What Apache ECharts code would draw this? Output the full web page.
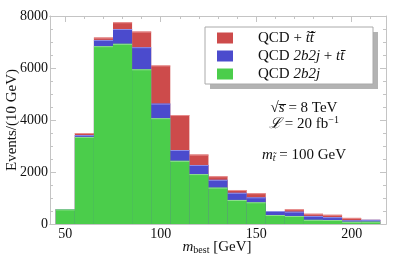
<!DOCTYPE html>
<html><head><meta charset="utf-8">
<script src="https://cdn.jsdelivr.net/npm/echarts@6/dist/echarts.min.js"></script>
<style>html,body{margin:0;padding:0;background:#fff}#c{width:403px;height:260px}</style>
</head><body><div id="c"></div>
<script>
// bin lower edges (GeV), bin width 10
const binStarts = [45,55,65,75,85,95,105,115,125,135,145,155,165,175,185,195,205];
const binWidth = 10;
// stacked cumulative heights
const qcd2b2j      = [560,3350,6840,6930,5950,4070,2430,1920,1400,925,835,346,308,160,154,85,90];
const qcd2b2jTT    = [570,3420,7080,7500,6800,4630,2846,2270,1700,1200,1026,500,474,310,265,141,160];
const qcdStop      = [570,3500,7170,7760,7400,6100,4190,2670,1835,1308,1185,500,564,395,355,235,160];
const xMajorTicks = [50,100,150,200];
const xMinorTicks = [50,60,70,80,90,100,110,120,130,140,150,160,170,180,190,200,210];
const names = ['QCD + t̃t̃*','QCD 2b2j + tt̄','QCD 2b2j'];
const legendRich = {
  'QCD + t̃t̃*': 'QCD + {i|t̃t̃̄}',
  'QCD 2b2j + tt̄': 'QCD {i|2b2j} + {i|tt̄}',
  'QCD 2b2j': 'QCD {i|2b2j}'
};

const serif = 'Liberation Serif';
const chart = echarts.init(document.getElementById('c'));

function mkData(vals){ return binStarts.map((s,i)=>[s, s+binWidth, vals[i]]); }
function mkSeries(name, vals, color, edge){
  return {
    name, type:'custom', xAxisIndex:0, yAxisIndex:0,
    itemStyle:{color},
    encode:{x:[0,1], y:2},
    data: mkData(vals),
    renderItem: function(params, api){
      const p0 = api.coord([api.value(0), api.value(2)]);
      const p1 = api.coord([api.value(1), 0]);
      return {type:'group', children:[
        {type:'rect', shape:{x:p0[0], y:p0[1], width:p1[0]-p0[0], height:p1[1]-p0[1]},
          style:{fill:color}},
        {type:'line', shape:{x1:p0[0], y1:p0[1]+0.5, x2:p1[0], y2:p0[1]+0.5},
          style:{stroke:edge, lineWidth:1}}
      ]};
    }
  };
}
const axisCol = '#c4c4c4';
function xAx(pos, ticks, len, labels){
  return {type:'value', position:pos, min:42, max:218,
    axisLine:{show:true, lineStyle:{color:axisCol}},
    axisTick:{show:true, inside:true, length:len, customValues:ticks, lineStyle:{color:axisCol}},
    axisLabel:{show:labels, customValues:xMajorTicks, color:'#111', fontFamily:serif, fontSize:14, margin:3},
    splitLine:{show:false}};
}
function yAx(pos, labels){
  return {type:'value', position:pos, min:0, max:8000, interval:2000,
    axisLine:{show:true, lineStyle:{color:axisCol}},
    axisTick:{show:true, inside:true, length:6, lineStyle:{color:axisCol}},
    minorTick:{show:true, splitNumber:4, length:3, lineStyle:{color:axisCol}},
    axisLabel:{show:labels, formatter: v => String(v), color:'#111', fontFamily:serif, fontSize:14, margin:2},
    splitLine:{show:false}};
}

chart.setOption({
  animation:false,
  backgroundColor:'#fff',
  grid:{left:50, right:17, top:16, bottom:36},
  xAxis:[xAx('bottom', xMajorTicks, 6, true), xAx('bottom', xMinorTicks, 3, false),
         xAx('top', xMajorTicks, 6, false), xAx('top', xMinorTicks, 3, false)],
  yAxis:[yAx('left', true), yAx('right', false)],
  legend:{
    z:20, padding:0,
    orient:'vertical', left:217, top:30, itemWidth:16, itemHeight:11, itemGap:2,
    icon:'rect', data:names,
    formatter: n => legendRich[n],
    textStyle:{fontFamily:serif, fontSize:15, lineHeight:16, color:'#111', padding:[0,0,0,20],
      rich:{i:{fontFamily:serif, fontSize:15, lineHeight:16, fontStyle:'italic', color:'#111'}}}
  },
  graphic:[
    {type:'rect', z:5, shape:{x:210, y:32, width:168, height:57}, style:{fill:'#b3b3b3'}},
    {type:'rect', z:6, shape:{x:205, y:27, width:168, height:57}, style:{fill:'#fff', stroke:'#aaa', lineWidth:1}},
    {type:'text', z:10, style:{
      text:'√{i|s̅} = 8 TeV', x:304, y:108, align:'center', verticalAlign:'middle',
      font:'15px "Liberation Serif"', fill:'#111',
      rich:{i:{fontStyle:'italic', fontFamily:serif, fontSize:15}}}},
    {type:'text', z:10, style:{
      text:'{i|ℒ} = 20 fb{s|−1}', x:304, y:124, align:'center', verticalAlign:'middle',
      font:'15px "Liberation Serif"', fill:'#111',
      rich:{i:{fontStyle:'italic', fontFamily:serif, fontSize:15}, s:{fontFamily:serif, fontSize:10, verticalAlign:'top', padding:[0,0,8,0]}}}},
    {type:'text', z:10, style:{
      text:'{i|m}{s|t̃} = 100 GeV', x:304, y:155, align:'center', verticalAlign:'middle',
      font:'15px "Liberation Serif"', fill:'#111',
      rich:{i:{fontStyle:'italic', fontFamily:serif, fontSize:15}, s:{fontStyle:'italic', fontFamily:serif, fontSize:10, padding:[6,0,0,0]}}}},
    {type:'text', z:10, style:{
      text:'{i|m}{s|best} [GeV]', x:217, y:247, align:'center', verticalAlign:'middle',
      font:'15px "Liberation Serif"', fill:'#111',
      rich:{i:{fontStyle:'italic', fontFamily:serif, fontSize:15}, s:{fontFamily:serif, fontSize:10, padding:[7,0,0,0]}}}},
    {type:'text', z:10, rotation:Math.PI/2, x:12, y:120, style:{
      text:'Events/(10 GeV)', x:0, y:0, align:'center', verticalAlign:'middle',
      font:'15px "Liberation Serif"', fill:'#111'}}
  ],
  series:[
    mkSeries(names[0], qcdStop, '#cd4b4b', 'rgba(235,150,150,0.9)'),
    mkSeries(names[1], qcd2b2jTT, '#4b4bcd', 'rgba(150,150,235,0.9)'),
    mkSeries(names[2], qcd2b2j, '#4bcd4b', 'rgba(150,225,150,0.9)')
  ]
});
</script></body></html>
